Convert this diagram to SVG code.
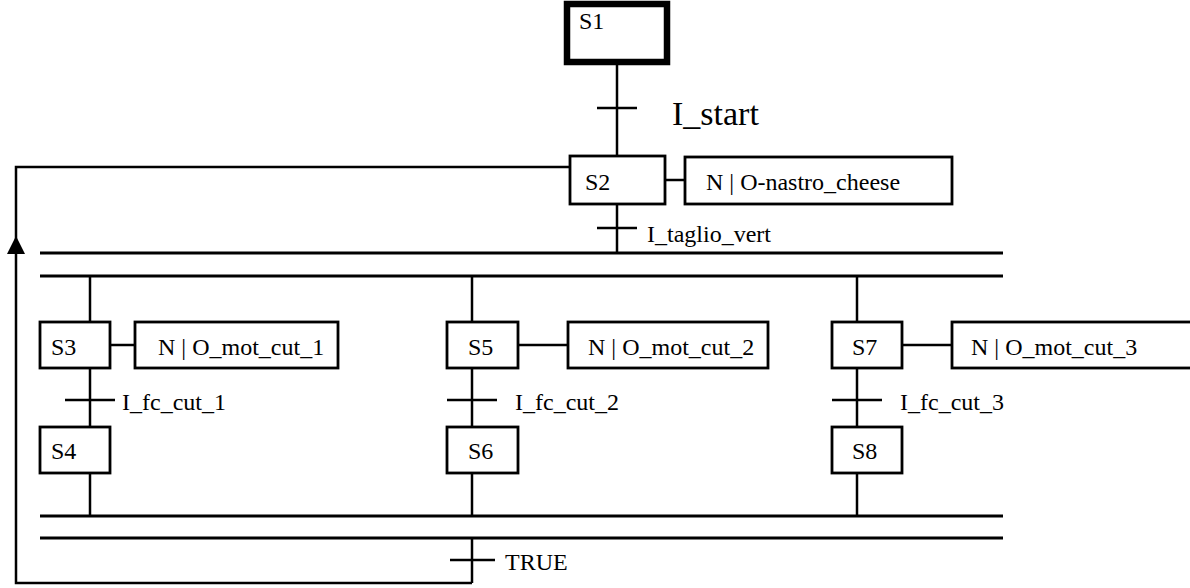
<svg xmlns="http://www.w3.org/2000/svg" width="1190" height="588" viewBox="0 0 1190 588">
<style>
.box{fill:#fff;stroke:#000;stroke-width:2.8}
.init{fill:#fff;stroke:#000;stroke-width:6.5}
.ln{stroke:#000;stroke-width:2.5;fill:none}
.bar{stroke:#000;stroke-width:3;fill:none}
.t{font-family:"Liberation Serif","Times New Roman",serif;font-size:24px;fill:#000}
.big{font-size:34px}
</style>
<g id="connectors">
<line class="ln" x1="617" y1="62" x2="617" y2="156"/>
<line class="ln" x1="597" y1="108" x2="637" y2="108"/>
<line class="ln" x1="617" y1="204" x2="617" y2="253"/>
<line class="ln" x1="597" y1="228" x2="637" y2="228"/>
<line class="ln" x1="665" y1="180" x2="685" y2="180"/>
<line class="bar" x1="40" y1="253" x2="1003" y2="253"/>
<line class="bar" x1="40" y1="276" x2="1003" y2="276"/>
<line class="ln" x1="90" y1="276" x2="90" y2="322"/>
<line class="ln" x1="472" y1="276" x2="472" y2="322"/>
<line class="ln" x1="857" y1="276" x2="857" y2="322"/>
<line class="ln" x1="110" y1="345" x2="135" y2="345"/>
<line class="ln" x1="518" y1="345" x2="568" y2="345"/>
<line class="ln" x1="902" y1="345" x2="952" y2="345"/>
<line class="ln" x1="90" y1="368" x2="90" y2="427"/>
<line class="ln" x1="472" y1="368" x2="472" y2="427"/>
<line class="ln" x1="857" y1="368" x2="857" y2="427"/>
<line class="ln" x1="65" y1="400" x2="115" y2="400"/>
<line class="ln" x1="447" y1="400" x2="497" y2="400"/>
<line class="ln" x1="832" y1="400" x2="882" y2="400"/>
<line class="ln" x1="90" y1="473" x2="90" y2="516"/>
<line class="ln" x1="472" y1="473" x2="472" y2="516"/>
<line class="ln" x1="857" y1="473" x2="857" y2="516"/>
<line class="bar" x1="40" y1="516" x2="1003" y2="516"/>
<line class="bar" x1="40" y1="538" x2="1003" y2="538"/>
<line class="ln" x1="472" y1="538" x2="472" y2="583"/>
<line class="ln" x1="450" y1="560" x2="495" y2="560"/>
<polyline class="ln" points="472,583 16,583 16,167 570,167"/>
<polygon points="16,236 7,254 25,254" fill="#000"/>
</g>
<g id="S1"><rect class="init" x="567" y="4" width="100" height="58"/><text class="t" x="579" y="29">S1</text></g>
<g id="S2"><rect class="box" x="570" y="156" width="95" height="48"/><text class="t" x="585" y="190">S2</text></g>
<g id="A2"><rect class="box" x="685" y="157" width="267" height="47"/><text class="t" x="706" y="190">N | O-nastro_cheese</text></g>
<g id="S3"><rect class="box" x="40" y="322" width="70" height="46"/><text class="t" x="51" y="355">S3</text></g>
<g id="A3"><rect class="box" x="135" y="322" width="203" height="46"/><text class="t" x="158" y="355">N | O_mot_cut_1</text></g>
<g id="S5"><rect class="box" x="447" y="322" width="71" height="46"/><text class="t" x="468" y="355">S5</text></g>
<g id="A5"><rect class="box" x="568" y="322" width="200" height="46"/><text class="t" x="588" y="355">N | O_mot_cut_2</text></g>
<g id="S7"><rect class="box" x="832" y="322" width="70" height="46"/><text class="t" x="852" y="355">S7</text></g>
<g id="A7"><rect class="box" x="952" y="322" width="250" height="46"/><text class="t" x="971" y="355">N | O_mot_cut_3</text></g>
<g id="S4"><rect class="box" x="40" y="427" width="70" height="46"/><text class="t" x="51" y="459">S4</text></g>
<g id="S6"><rect class="box" x="447" y="427" width="71" height="46"/><text class="t" x="468" y="459">S6</text></g>
<g id="S8"><rect class="box" x="832" y="427" width="70" height="46"/><text class="t" x="852" y="459">S8</text></g>
<g id="labels">
<text class="t big" x="672" y="125">I_start</text>
<text class="t" x="647" y="242">I_taglio_vert</text>
<text class="t" x="122" y="410">I_fc_cut_1</text>
<text class="t" x="515" y="410">I_fc_cut_2</text>
<text class="t" x="900" y="410">I_fc_cut_3</text>
<text class="t" x="505" y="570">TRUE</text>
</g>
</svg>
